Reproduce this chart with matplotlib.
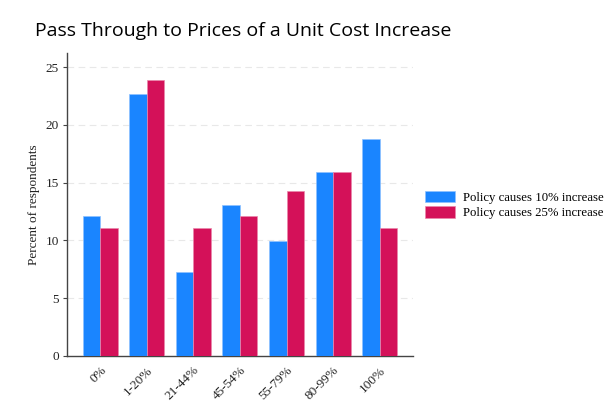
import matplotlib.pyplot as plt
import numpy as np

categories = ['0%', '1-20%', '21-44%', '45-54%', '55-79%', '80-99%', '100%']
pct_10 = [12.1, 22.7, 7.3, 13.1, 9.9, 15.9, 18.8]
pct_25 = [11.1, 23.9, 11.1, 12.1, 14.3, 15.9, 11.1]
series_labels = ['Policy causes 10% increase', 'Policy causes 25% increase']
yticks = [0, 5, 10, 15, 20, 25]

blue = '#1A85FF'
red = '#D41159'

fig = plt.figure(figsize=(6.16, 4.09), dpi=100)
fig.patch.set_facecolor('white')
ax = fig.add_axes([0.109, 0.130, 0.561, 0.740])

x = np.arange(len(categories))
w = 0.375
b1 = ax.bar(x - w / 2, pct_10, w, color=blue, edgecolor='#8EC2FF', linewidth=0.5,
            label=series_labels[0], zorder=3)
b2 = ax.bar(x + w / 2, pct_25, w, color=red, edgecolor='#EA88AC', linewidth=0.5,
            label=series_labels[1], zorder=3)

ax.set_xlim(-0.71, len(categories) - 1 + 0.71)
ax.set_ylim(0, 26.2)
ax.set_yticks(yticks)
ax.set_yticklabels([str(t) for t in yticks], family='Liberation Serif', fontsize=9.5, color='#222222')
ax.set_xticks(x)
ax.set_xticklabels(categories, rotation=45, ha='right', rotation_mode='anchor',
                   family='Liberation Serif', fontsize=9.5, color='#222222')
ax.tick_params(axis='x', length=0, pad=6)
ax.tick_params(axis='y', length=3, color='#444444', pad=3)

for t in yticks[1:]:
    ax.axhline(t, color='#E8E8E8', linewidth=0.8, linestyle=(0, (6, 4)), zorder=1)

for s in ['top', 'right']:
    ax.spines[s].set_visible(False)
for s in ['left', 'bottom']:
    ax.spines[s].set_color('#444444')
    ax.spines[s].set_linewidth(1.0)

ax.set_ylabel('Percent of respondents', family='Liberation Serif', fontsize=9.5, color='#222222',
              labelpad=4)

fig.legend(handles=[b1, b2], labels=series_labels, loc='upper left',
           bbox_to_anchor=(0.672, 0.562), frameon=False,
           prop={'family': 'Liberation Serif', 'size': 9.2},
           handlelength=2.35, handleheight=1.0, handletextpad=0.6, labelspacing=0.2)

fig.text(0.057, 0.925, 'Pass Through to Prices of a Unit Cost Increase',
         family='Open Sans', fontsize=14, color='black', va='center')

fig.savefig('out.png', dpi=100, facecolor='white')
plt.close(fig)
